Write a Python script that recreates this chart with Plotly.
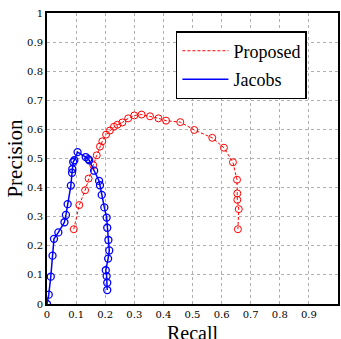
import plotly.graph_objects as go

proposed_recall = [0.092, 0.111, 0.131, 0.143, 0.159, 0.171, 0.182, 0.190, 0.203, 0.216, 0.230, 0.242,
                   0.259, 0.279, 0.300, 0.325, 0.354, 0.383, 0.409, 0.458, 0.506, 0.568, 0.608, 0.639,
                   0.653, 0.654, 0.654, 0.659, 0.656]
proposed_precision = [0.257, 0.340, 0.391, 0.431, 0.477, 0.511, 0.541, 0.559, 0.582, 0.596, 0.609, 0.616,
                      0.624, 0.638, 0.648, 0.651, 0.645, 0.638, 0.630, 0.625, 0.598, 0.571, 0.537, 0.487,
                      0.427, 0.380, 0.358, 0.326, 0.257]

jacobs_recall = [0.0, 0.006, 0.013, 0.019, 0.024, 0.039, 0.060, 0.065, 0.071, 0.082, 0.086, 0.087, 0.090,
                 0.094, 0.105, 0.133, 0.142, 0.145, 0.162, 0.179, 0.182, 0.188, 0.197, 0.205, 0.207, 0.211,
                 0.214, 0.210, 0.202, 0.205, 0.207, 0.207]
jacobs_precision = [0.0, 0.032, 0.094, 0.166, 0.224, 0.246, 0.281, 0.306, 0.343, 0.407, 0.451, 0.464, 0.488,
                    0.494, 0.522, 0.505, 0.498, 0.494, 0.458, 0.423, 0.408, 0.375, 0.332, 0.297, 0.262, 0.220,
                    0.184, 0.156, 0.116, 0.096, 0.073, 0.048]

tick_vals = [0, 0.1, 0.2, 0.3, 0.4, 0.5, 0.6, 0.7, 0.8, 0.9, 1]
tick_text = ["0", "0.1", "0.2", "0.3", "0.4", "0.5", "0.6", "0.7", "0.8", "0.9", "1"]

tick_font = "DejaVu Serif"
text_font = "Liberation Serif"

fig = go.Figure()
fig.add_trace(go.Scatter(x=proposed_recall, y=proposed_precision, mode="lines+markers",
                         line=dict(color="#ff0000", width=1, dash="3px,2px"),
                         marker=dict(symbol="circle-open", size=7, color="#ff0000", line=dict(width=1)),
                         showlegend=False))
fig.add_trace(go.Scatter(x=jacobs_recall, y=jacobs_precision, mode="lines+markers",
                         line=dict(color="#0000ff", width=1.5),
                         marker=dict(symbol="circle-open", size=7, color="#0000ff", line=dict(width=1.3)),
                         showlegend=False))
# legend-only entries (lines without markers, as in the reference)
fig.add_trace(go.Scatter(x=[None], y=[None], mode="lines", name="Proposed", legendgroup="a",
                         line=dict(color="#ff0000", width=1, dash="3px,2px")))
fig.add_trace(go.Scatter(x=[None], y=[None], mode="lines", name="Jacobs", legendgroup="b",
                         line=dict(color="#0000ff", width=1.5)))

axis_common = dict(range=[0, 1], tickvals=tick_vals, ticktext=tick_text, showgrid=True,
                   gridcolor="#b0b0b0", griddash="dot", gridwidth=1, zeroline=False,
                   showline=True, mirror=True, linecolor="black", linewidth=2,
                   ticks="", automargin=False, tickfont=dict(family=tick_font, size=10, color="black"))

fig.update_xaxes(**axis_common)
fig.update_yaxes(**axis_common)

fig.add_annotation(text="Recall", xref="paper", yref="paper", x=0.5, y=-0.056,
                   xanchor="center", yanchor="top", showarrow=False,
                   font=dict(family=text_font, size=20, color="black"))
fig.add_annotation(text="Precision", xref="paper", yref="paper", x=-0.11, y=0.503,
                   xanchor="center", yanchor="middle", textangle=-90, showarrow=False,
                   font=dict(family=text_font, size=21, color="black"))

fig.update_layout(
    width=341, height=339,
    margin=dict(l=47, r=3, t=13, b=35),
    plot_bgcolor="white", paper_bgcolor="white",
    legend=dict(x=0.443, y=0.938, xanchor="left", yanchor="top",
                bgcolor="white", bordercolor="black", borderwidth=1.5,
                font=dict(family=text_font, size=18, color="black"),
                traceorder="grouped", tracegroupgap=2, itemwidth=46),
)

# remove the page's default body margin so the figure fills the window exactly
fig.write_html("out.html", config={"displayModeBar": False},
               post_script="document.body.style.margin='0';document.body.style.overflow='hidden';")
